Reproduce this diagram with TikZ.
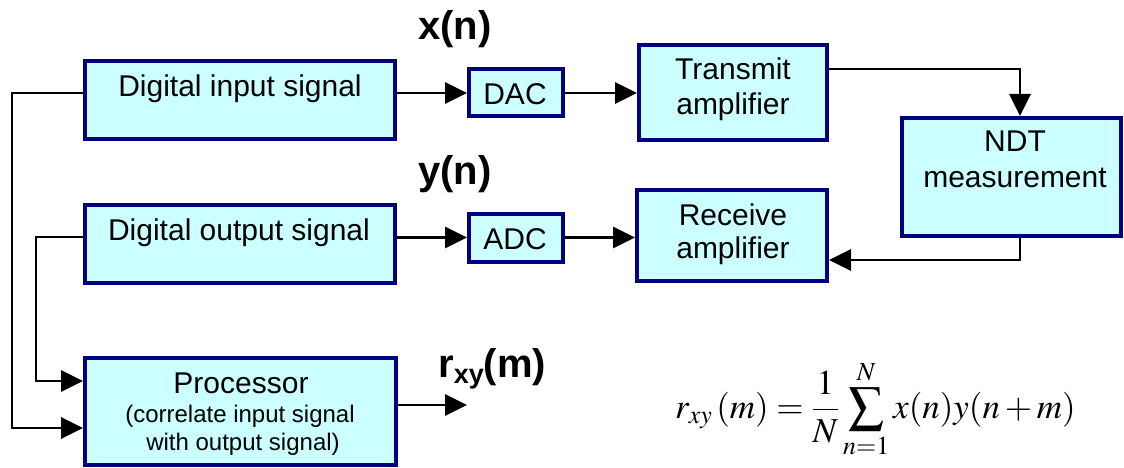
\documentclass[tikz,border=0pt]{standalone}
\usepackage{mathptmx}
\usepackage[no-math]{fontspec}
\setmainfont{Liberation Sans}
\usetikzlibrary{arrows.meta}
\definecolor{boxfill}{HTML}{CCFFFF}
\definecolor{boxline}{HTML}{000080}
\tikzset{
  block/.style={draw=boxline, fill=boxfill, line width=4pt, inner sep=0pt, rectangle},
  txt/.style={font=\fontsize{30}{36}\selectfont, anchor=base, inner sep=0pt},
  small/.style={font=\fontsize{24}{28}\selectfont, anchor=base, inner sep=0pt},
  sig/.style={font=\bfseries\fontsize{40}{48}\selectfont, anchor=base west, inner sep=0pt},
  wire/.style={line width=2.8pt, black},
  arr/.style={wire, -{Triangle[length=22pt,width=21pt]}},
}
\begin{document}
\begin{tikzpicture}[x=1pt,y=-1pt]
\useasboundingbox (0,0) rectangle (1124,468);

% blocks
\node[block, minimum width=310pt, minimum height=78pt]  (dis)  at (240,100)   {};
\node[block, minimum width=94pt,  minimum height=47pt]  (dac)  at (516,93)    {};
\node[block, minimum width=188pt, minimum height=95pt]  (ta)   at (733,92.5)  {};
\node[block, minimum width=219pt, minimum height=118pt] (ndt)  at (1011,177)  {};
\node[block, minimum width=310pt, minimum height=78pt]  (dos)  at (240,244)   {};
\node[block, minimum width=94pt,  minimum height=48pt]  (adc)  at (516,237.5) {};
\node[block, minimum width=190pt, minimum height=91pt]  (ra)   at (732,235.5) {};
\node[block, minimum width=311pt, minimum height=107pt] (proc) at (240.5,411.5) {};

% block texts
\node[txt] (t-dis)  at (240,97)   {Digital input signal};
\node[txt] (t-dac)  at (515,105)  {DAC};
\node[txt] (t-ta1)  at (733,80)   {Transmit};
\node[txt] (t-ta2)  at (733,115)  {amplifier};
\node[txt] (t-ndt1) at (1015,152) {NDT};
\node[txt] (t-ndt2) at (1015,187) {measurement};
\node[txt] (t-dos)  at (239,240)  {Digital output signal};
\node[txt] (t-adc)  at (515,249)  {ADC};
\node[txt] (t-ra1)  at (733,225)  {Receive};
\node[txt] (t-ra2)  at (733,258)  {amplifier};
\node[txt] (t-pr)   at (241,393)  {Processor};
\node[small] (t-pr2) at (240,422) {(correlate input signal};
\node[small] (t-pr3) at (243,450) {with output signal)};

% signal names
\node[sig] (xn) at (418,40)  {x(n)};
\node[sig] (yn) at (418,184) {y(n)};
\node[sig] (rxy) at (438,377) {r\raisebox{-6pt}{\fontsize{27}{30}\selectfont xy}(m)};

% ports and bus lines
\coordinate (busA) at (12,0);
\coordinate (busB) at (36,0);
\coordinate (dis-o)  at ([yshift=7pt]dis.west);
\coordinate (dos-o)  at ([yshift=7pt]dos.west);
\coordinate (proc-a) at ([yshift=-16.5pt]proc.west);
\coordinate (proc-b) at ([yshift=30.5pt]proc.west);
\coordinate (proc-o) at ([yshift=6.5pt]proc.east);
\coordinate (rxy-end) at (467,405);
\coordinate (ta-o)   at ([yshift=23.5pt]ta.east);
\coordinate (ndt-i)  at ([xshift=9pt]ndt.north);
\coordinate (ndt-o)  at ([xshift=9pt]ndt.south);
\coordinate (ra-i)   at ([yshift=-24.5pt]ra.east);

% connectors
\draw[arr] (dis-o) -- (dis-o -| busA) |- (proc-a);
\draw[arr] (dos-o) -- (dos-o -| busB) |- (proc-b);
\draw[arr] (dac.west -| dis.east) -- (dac.west);
\draw[arr] (dac.east) -- (dac.east -| ta.west);
\draw[arr] (ta-o) -| (ndt-i);
\draw[arr] (ndt-o) |- (ra-i);
\draw[arr] (adc.west -| dos.east) -- (adc.west);
\draw[arr] (adc.east) -- (adc.east -| ra.west);
\draw[arr] (proc-o) -- (proc-o -| rxy-end);

% cross-correlation formula
\node[anchor=base west, inner sep=0pt, font=\fontsize{35}{42}\selectfont] (eq) at (675,418)
  {$\displaystyle r_{xy}\,(m)=\frac{1}{N}\sum_{n=1}^{N}x(n)y(n+m)$};
\end{tikzpicture}
\end{document}
